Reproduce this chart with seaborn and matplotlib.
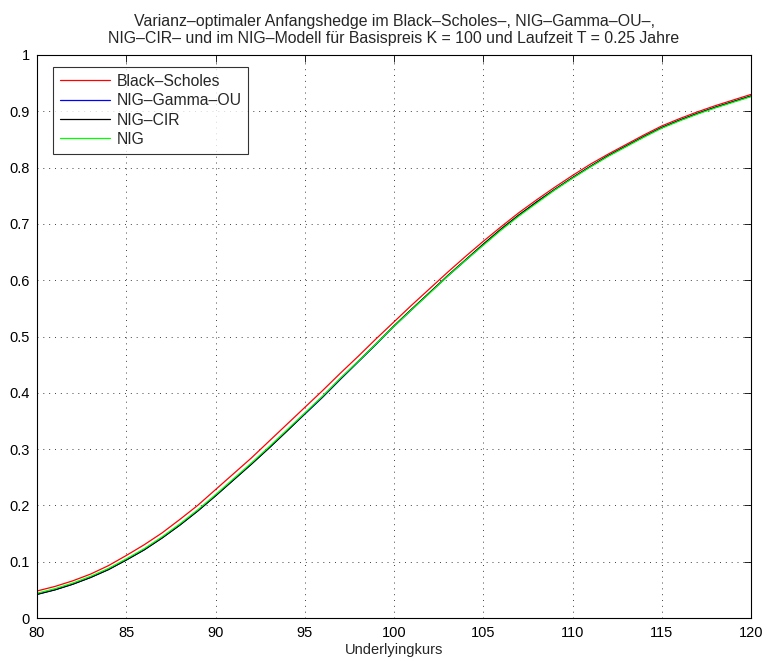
import numpy as np
import pandas as pd
import seaborn as sns
import matplotlib
matplotlib.use("Agg")
import matplotlib.pyplot as plt
from matplotlib.ticker import FuncFormatter

# Underlyingkurs S (x-Achse)
kurs = list(range(80, 121))

# Anfangshedge je Modell
black_scholes = [0.048, 0.056, 0.066, 0.078, 0.093, 0.111, 0.130, 0.151, 0.175, 0.200,
                 0.228, 0.256, 0.284, 0.314, 0.344, 0.374, 0.404, 0.435, 0.465, 0.496,
                 0.526, 0.556, 0.585, 0.614, 0.642, 0.669, 0.695, 0.720, 0.743, 0.765,
                 0.786, 0.806, 0.824, 0.841, 0.858, 0.874, 0.887, 0.899, 0.910, 0.920,
                 0.930]
nig_gamma_ou = [0.042, 0.050, 0.060, 0.072, 0.086, 0.103, 0.121, 0.142, 0.165, 0.190,
                0.217, 0.245, 0.273, 0.302, 0.332, 0.362, 0.392, 0.424, 0.455, 0.486,
                0.518, 0.548, 0.578, 0.607, 0.635, 0.663, 0.690, 0.715, 0.739, 0.761,
                0.782, 0.802, 0.821, 0.838, 0.855, 0.871, 0.884, 0.896, 0.907, 0.917,
                0.927]
nig_cir = [0.042, 0.050, 0.060, 0.072, 0.086, 0.103, 0.121, 0.142, 0.165, 0.190,
           0.217, 0.245, 0.273, 0.302, 0.332, 0.363, 0.393, 0.425, 0.456, 0.487,
           0.519, 0.549, 0.578, 0.608, 0.636, 0.664, 0.691, 0.716, 0.739, 0.761,
           0.782, 0.802, 0.821, 0.838, 0.855, 0.871, 0.884, 0.896, 0.907, 0.917,
           0.927]
nig = [0.044, 0.052, 0.062, 0.074, 0.088, 0.105, 0.123, 0.144, 0.167, 0.192,
       0.219, 0.247, 0.275, 0.304, 0.334, 0.364, 0.394, 0.426, 0.456, 0.487,
       0.518, 0.548, 0.577, 0.607, 0.635, 0.662, 0.689, 0.714, 0.737, 0.760,
       0.781, 0.801, 0.820, 0.837, 0.854, 0.870, 0.883, 0.895, 0.906, 0.916,
       0.926]

modelle = ["Black–Scholes", "NIG–Gamma–OU", "NIG–CIR", "NIG"]
farben = {"Black–Scholes": "#ff0000", "NIG–Gamma–OU": "#0000ff",
          "NIG–CIR": "#000000", "NIG": "#00ff00"}

df = pd.DataFrame({
    "S": kurs * 4,
    "hedge": black_scholes + nig_gamma_ou + nig_cir + nig,
    "Modell": sum([[m] * len(kurs) for m in modelle], []),
})

sns.set_style("white")
plt.rcParams["font.family"] = ["Liberation Sans", "DejaVu Sans"]

fig = plt.figure(figsize=(7.68, 6.61), dpi=100)
ax = fig.add_axes([37 / 768, 1 - 618 / 661, (751 - 37) / 768, (618 - 55) / 661])

sns.lineplot(data=df, x="S", y="hedge", hue="Modell", hue_order=modelle,
             palette=farben, linewidth=0.9, ax=ax, sort=False)

ax.set_xlim(80, 120)
ax.set_ylim(0, 1)
ax.set_xticks(np.arange(80, 121, 5))
ax.set_yticks(np.arange(0, 1.01, 0.1))
ax.yaxis.set_major_formatter(FuncFormatter(lambda v, p: "%g" % round(v, 2)))
ax.tick_params(direction="in", length=5, width=0.6, labelsize=10.5,
               top=True, right=True, colors="black")
ax.tick_params(axis="x", pad=6)
ax.tick_params(axis="y", pad=5)
ax.grid(True, linestyle=(0, (1, 5)), color="black", linewidth=0.7, alpha=0.75)
for sp in ax.spines.values():
    sp.set_color("black")
    sp.set_linewidth(0.8)

ax.set_xlabel("Underlyingkurs", fontsize=10.5, labelpad=2)
ax.set_ylabel("")
ax.set_title("Varianz–optimaler Anfangshedge im Black–Scholes–, NIG–Gamma–OU–,\n"
             "NIG–CIR– und im NIG–Modell für Basispreis K = 100 und Laufzeit T = 0.25 Jahre",
             fontsize=11.4, pad=9, linespacing=1.15)

handles, labels = ax.get_legend_handles_labels()
leg = ax.legend(handles, labels, loc="upper left",
                bbox_to_anchor=(15.7 / 714, 1 - 11.7 / 563), borderaxespad=0,
                fontsize=11.3, frameon=True, fancybox=False, edgecolor="black",
                handlelength=3.2, handletextpad=0.4, labelspacing=0.28,
                borderpad=0.45)
leg.get_frame().set_linewidth(0.8)

fig.savefig("out.png", dpi=100)
